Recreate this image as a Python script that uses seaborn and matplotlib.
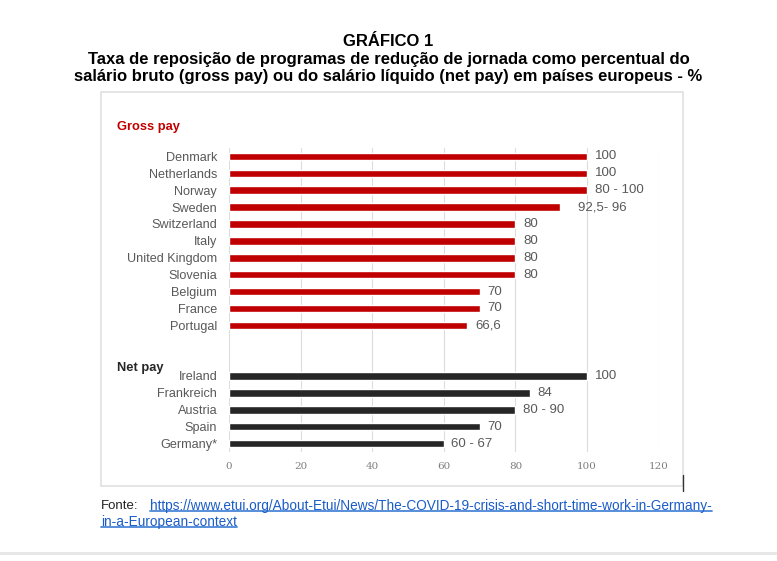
import matplotlib
matplotlib.use("Agg")
from matplotlib import pyplot as plt
from matplotlib.lines import Line2D
from matplotlib.patches import Rectangle
import pandas as pd
import seaborn as sns

# data
gross_countries = ['Denmark', 'Netherlands', 'Norway', 'Sweden', 'Switzerland',
                   'Italy', 'United Kingdom', 'Slovenia', 'Belgium', 'France',
                   'Portugal']
gross_values = [100, 100, 100, 92.5, 80, 80, 80, 80, 70, 70, 66.6]
gross_labels = ['100', '100', '80 - 100', '92,5- 96', '80', '80', '80', '80',
                '70', '70', '66,6']

net_countries = ['Ireland', 'Frankreich', 'Austria', 'Spain', 'Germany*']
net_values = [100, 84, 80, 70, 60]
net_labels = ['100', '84', '80 - 90', '70', '60 - 67']

x_ticks = [0, 20, 40, 60, 80, 100, 120]

title = ('GRÁFICO 1\n'
         'Taxa de reposição de programas de redução de jornada como percentual do\n'
         'salário bruto (gross pay) ou do salário líquido (net pay) em países europeus - %')
source_url = ('https://www.etui.org/About-Etui/News/The-COVID-19-crisis-and-'
              'short-time-work-in-Germany-')
source_url2 = 'in-a-European-context'

df = pd.DataFrame({
    'country': gross_countries + net_countries,
    'value': gross_values + net_values,
    'group': ['Gross pay'] * len(gross_countries) + ['Net pay'] * len(net_countries),
})
labels = dict(zip(gross_countries + net_countries, gross_labels + net_labels))
# two empty slots separate the groups
order = gross_countries + ['', ' '] + net_countries

RED = '#C00000'
DARK = '#262626'
GREY = '#595959'

sns.set_theme(style='white')
plt.rcParams['font.family'] = ['Liberation Sans', 'DejaVu Sans']

fig = plt.figure(figsize=(7.77, 5.61), dpi=100)
W, H = 777, 561


def fx(px):
    return px / W


def fy(py):
    return 1 - py / H


ax = fig.add_axes([fx(229), fy(452), fx(658.6) - fx(229), fy(148) - fy(452)])

sns.barplot(data=df, x='value', y='country', hue='group', order=order,
            palette={'Gross pay': RED, 'Net pay': DARK}, orient='h',
            dodge=False, width=0.45, saturation=1, legend=False, ax=ax,
            zorder=3)

ax.set_xlim(0, 120)
ax.set_ylim(len(order) - 0.5, -0.5)
ax.set_xticks(x_ticks)
ax.set_xticklabels([str(t) for t in x_ticks], fontsize=7.5, color='#7f7f7f',
                   family='DejaVu Serif')
ax.tick_params(axis='x', length=0, pad=7)
ax.tick_params(axis='y', length=0, pad=8.5, labelsize=9.1, labelcolor=GREY)
ax.set_xlabel('')
ax.set_ylabel('')
for s in ax.spines.values():
    s.set_visible(False)
ax.grid(axis='x', color='#dcdcdc', lw=0.8, zorder=0)
ax.set_axisbelow(True)

# value labels next to the bars
extra_pad = {'Sweden': 7}
for bar in ax.patches:
    if bar.get_width() == 0:
        continue
    idx = int(round(bar.get_y() + bar.get_height() / 2))
    name = order[idx]
    ax.annotate(labels[name], (bar.get_width(), idx),
                xytext=(5.5 + extra_pad.get(name, 0), 0),
                textcoords='offset points', va='center', ha='left',
                fontsize=9.5, color=GREY)

# group headers
fig.text(fx(117), fy(127), 'Gross pay', color=RED, fontsize=9.3,
         fontweight='bold', va='center', ha='left')
fig.text(fx(117), fy(368), 'Net pay', color=DARK, fontsize=9.3,
         fontweight='bold', va='center', ha='left')

# frame of the inner chart
fig.add_artist(Rectangle((fx(101), fy(486)), fx(683) - fx(101), fy(92) - fy(486),
                         transform=fig.transFigure, fill=False,
                         edgecolor='#e0e0e0', lw=1.2))
fig.add_artist(Line2D([fx(683), fx(683)], [fy(475), fy(491)],
                      transform=fig.transFigure, color='#333333', lw=1))

# title
fig.text(0.5, fy(34.5), title, ha='center', va='top', fontsize=12,
         fontweight='bold', color='black', linespacing=1.2)

# source
fig.text(fx(101), fy(506), 'Fonte:', ha='left', va='center', fontsize=9.5,
         color='#222222')
link1 = fig.text(fx(150), fy(506), source_url, ha='left', va='center',
                 fontsize=9.85, color='#1a5cc8')
link2 = fig.text(fx(101), fy(522), source_url2, ha='left', va='center',
                 fontsize=9.85, color='#1a5cc8')
fig.canvas.draw()
renderer = fig.canvas.get_renderer()
for t in (link1, link2):
    bb = t.get_window_extent(renderer).transformed(fig.transFigure.inverted())
    fig.add_artist(Line2D([bb.x0, bb.x1], [bb.y0 + 0.003, bb.y0 + 0.003],
                          transform=fig.transFigure, color='#4a86d8', lw=1.3))

# page separator
fig.add_artist(Line2D([0, 1], [fy(553), fy(553)], transform=fig.transFigure,
                      color='#e6e6e6', lw=2))

fig.savefig('out.png', dpi=100)
